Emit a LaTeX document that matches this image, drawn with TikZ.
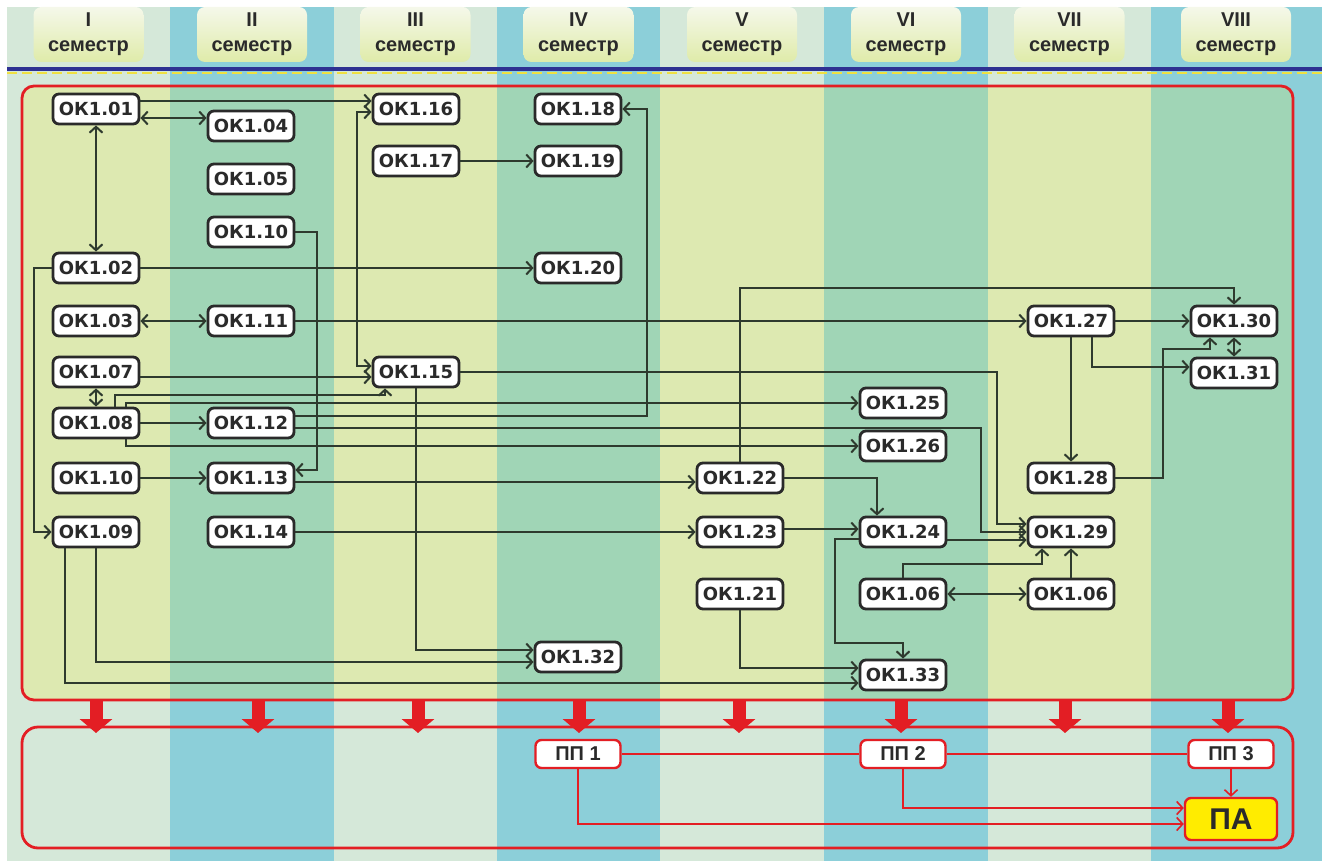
\documentclass[tikz,border=0pt]{standalone}
\usepackage{fontspec}
\setmainfont{Liberation Sans}
\newfontfamily\okfont{DejaVu Sans}
\usepackage{xcolor}
\usepackage{tikz}
\usetikzlibrary{positioning,arrows.meta,calc}
\definecolor{ColPale}{HTML}{D5E8D9}
\definecolor{ColBlue}{HTML}{8CCFD9}
\definecolor{InnerPale}{HTML}{DDE9B1}
\definecolor{InnerMint}{HTML}{A0D5B6}
\definecolor{FrameRed}{HTML}{E31E24}
\definecolor{LineDark}{HTML}{2E3A2E}
\definecolor{TextDark}{HTML}{2A2A2A}
\definecolor{HeadTop}{HTML}{F5F8EA}
\definecolor{HeadBottom}{HTML}{DFEBA9}
\definecolor{RuleBlue}{HTML}{2E3192}
\definecolor{RuleYellow}{HTML}{F0E040}
\definecolor{ExamYellow}{HTML}{FFEC00}

\tikzset{
  okbox/.style={draw=TextDark, fill=white, rounded corners=3pt, line width=1.4pt,
    minimum width=43pt, minimum height=15pt, inner sep=1pt, text=TextDark,
    font=\okfont\bfseries\fontsize{9}{10}\selectfont},
  ppbox/.style={draw=FrameRed, fill=white, rounded corners=3pt, line width=1.2pt,
    minimum width=42.5pt, minimum height=14pt, inner sep=1pt, text=TextDark,
    font=\bfseries\fontsize{10}{11}\selectfont},
  pabox/.style={ppbox, fill=ExamYellow, minimum width=46pt, minimum height=21pt,
    font=\bfseries\fontsize{15}{17}\selectfont},
  link/.style={draw=LineDark, line width=1pt, -{Straight Barb[length=3pt,width=6.5pt]}},
  twoway/.style={link, {Straight Barb[length=3pt,width=6.5pt]}-{Straight Barb[length=3pt,width=6.5pt]}},
  redlink/.style={draw=FrameRed, line width=0.8pt, -{Straight Barb[length=3pt,width=6.5pt]}},
  redline/.style={draw=FrameRed, line width=0.8pt},
  semhead/.style={rounded corners=4pt, top color=HeadTop, bottom color=HeadBottom},
  semtext/.style={align=center, text=TextDark, font=\bfseries\fontsize{10}{12.5}\selectfont},
}

\begin{document}
\begin{tikzpicture}[x=0.5pt,y=-0.5pt]
  \useasboundingbox (0,0) rectangle (1322,861);

  % semester columns
  \foreach \xa/\xb/\outer in {7/170/ColPale,170/334/ColBlue,334/497/ColPale,497/660/ColBlue,
      660/824/ColPale,824/988/ColBlue,988/1151/ColPale,1151/1322/ColBlue}
    \fill[\outer] (\xa,7) rectangle (\xb,861);
  \foreach \r/\xc in {I/88.5,II/252,III/415.5,IV/578.5,V/742,VI/906,VII/1069.5,VIII/1236}{
    \shade[semhead] (\xc-55,7) rectangle (\xc+55,62);
    \node[semtext] (sem\r) at (\xc,34) {\r\\семестр};
  }
  \draw[RuleBlue, line width=1.6pt] (7,69) -- (1322,69);
  \draw[RuleYellow, line width=1.2pt, dash pattern=on 5pt off 2.5pt] (7,73) -- (1322,73);

  \begin{scope}
    \clip[rounded corners=6pt] (22,86) rectangle (1293,700);
    \foreach \xa/\xb/\inner in {7/170/InnerPale,170/334/InnerMint,334/497/InnerPale,497/660/InnerMint,
        660/824/InnerPale,824/988/InnerMint,988/1151/InnerPale,1151/1322/InnerMint}
      \fill[\inner] (\xa,86) rectangle (\xb,700);
  \end{scope}
  \draw[FrameRed, line width=1.4pt, rounded corners=6pt] (22,86) rectangle (1293,700);
  \draw[FrameRed, line width=1.4pt, rounded corners=8pt] (22,727) rectangle (1293,848);
  \foreach \xc in {96,258,418,579,739,901,1065,1228}
    \draw[FrameRed, line width=6.5pt, -{Triangle[length=7pt,width=16pt]}] (\xc,700) -- (\xc,733);

  % components
  \node[okbox] (ok101) at (96,109) {ОК1.01};
  \node[okbox] (ok102) at (96,268) {ОК1.02};
  \node[okbox] (ok103) at (96,321) {ОК1.03};
  \node[okbox] (ok107) at (96,372) {ОК1.07};
  \node[okbox] (ok108) at (96,423) {ОК1.08};
  \node[okbox] (ok110b) at (96,478) {ОК1.10};
  \node[okbox] (ok109) at (96,532) {ОК1.09};
  \node[okbox] (ok104) at (251,126) {ОК1.04};
  \node[okbox] (ok105) at (251,179) {ОК1.05};
  \node[okbox] (ok110) at (251,232) {ОК1.10};
  \node[okbox] (ok111) at (251,321) {ОК1.11};
  \node[okbox] (ok112) at (251,423) {ОК1.12};
  \node[okbox] (ok113) at (251,478) {ОК1.13};
  \node[okbox] (ok114) at (251,532) {ОК1.14};
  \node[okbox] (ok116) at (416,109) {ОК1.16};
  \node[okbox] (ok117) at (416,161) {ОК1.17};
  \node[okbox] (ok115) at (416,372) {ОК1.15};
  \node[okbox] (ok118) at (578,109) {ОК1.18};
  \node[okbox] (ok119) at (578,161) {ОК1.19};
  \node[okbox] (ok120) at (578,268) {ОК1.20};
  \node[okbox] (ok132) at (578,657) {ОК1.32};
  \node[okbox] (ok122) at (740,478) {ОК1.22};
  \node[okbox] (ok123) at (740,532) {ОК1.23};
  \node[okbox] (ok121) at (740,594) {ОК1.21};
  \node[okbox] (ok125) at (903,403) {ОК1.25};
  \node[okbox] (ok126) at (903,446) {ОК1.26};
  \node[okbox] (ok124) at (903,532) {ОК1.24};
  \node[okbox] (ok106a) at (903,594) {ОК1.06};
  \node[okbox] (ok133) at (903,675) {ОК1.33};
  \node[okbox] (ok127) at (1071,321) {ОК1.27};
  \node[okbox] (ok128) at (1071,478) {ОК1.28};
  \node[okbox] (ok129) at (1071,532) {ОК1.29};
  \node[okbox] (ok106b) at (1071,594) {ОК1.06};
  \node[okbox] (ok130) at (1234,321) {ОК1.30};
  \node[okbox] (ok131) at (1234,373) {ОК1.31};

  \node[ppbox] (pp1) at (578,754) {ПП 1};
  \node[ppbox] (pp2) at (903,754) {ПП 2};
  \node[ppbox] (pp3) at (1231,754) {ПП 3};
  \node[pabox] (pa) at (1231,819) {ПА};

  % links
  \draw[link] ([yshift=4pt]ok101.east) -- ([yshift=4pt]ok101.east -| ok116.west);
  \draw[twoway] ([yshift=-4.5pt]ok101.east) -- ([yshift=-4.5pt]ok101.east -| ok104.west);
  \draw[twoway] (ok101.south) -- (ok102.north);
  \draw[link] (ok110.east) -- ++(22,0) |- ([yshift=4pt]ok113.east);
  \draw[twoway] ([yshift=-1.5pt]ok116.west) -- ++(-15,0) |- ([yshift=3pt]ok115.west);
  \draw[link] (ok117.east) -- (ok119.west);
  \draw[link] (ok102.east) -- (ok120.west);
  \draw[link] (ok102.west) -- ++(-18,0) |- (ok109.west);
  \draw[twoway] (ok103.east) -- (ok111.west);
  \draw[link] (ok111.east) -- (ok127.west);
  \draw[link] ([yshift=-2.5pt]ok107.east) -- ([yshift=-2.5pt]ok107.east -| ok115.west);
  \draw[twoway] (ok107.south) -- (ok108.north);
  \draw[link] ([xshift=9.5pt]ok108.north) -- ++(0,-12) -| ([xshift=-15.5pt]ok115.south);
  \draw[link] ([xshift=15pt]ok108.north) |- (ok125.west);
  \draw[link] (ok108.east) -- (ok112.west);
  \draw[link] ([xshift=15pt]ok108.south) |- (ok126.west);
  \draw[link] ([yshift=3.5pt]ok112.east) -| ([xshift=12.5pt]ok118.east) -- (ok118.east);
  \draw[link] ([yshift=-2.5pt]ok112.east) -| ([xshift=-23pt]ok129.west) -- (ok129.west);
  \draw[link] (ok110b.east) -- (ok113.west);
  \draw[link] ([yshift=-2pt]ok113.east) -- ([yshift=-2pt]ok113.east -| ok122.west);
  \draw[link] (ok115.east) -| ([xshift=-15pt,yshift=4pt]ok129.west) -- ([yshift=4pt]ok129.west);
  \draw[link] (ok115.south) |- ([yshift=3.5pt]ok132.west);
  \draw[link] (ok109.south) |- ([yshift=-2.5pt]ok132.west);
  \draw[link] ([xshift=-15.5pt]ok109.south) |- ([yshift=-4pt]ok133.west);
  \draw[link] (ok114.east) -- (ok123.west);
  \draw[link] (ok122.north) -- ++(0,-174) -| (ok130.north);
  \draw[link] (ok122.east) -| ([xshift=-13pt]ok124.north);
  \draw[link] ([yshift=1.5pt]ok123.east) -- ([yshift=1.5pt]ok123.east -| ok124.west);
  \draw[link] ([yshift=-4pt]ok124.east) -- ([yshift=-4pt]ok124.east -| ok129.west);
  \draw[link] ([yshift=-3.5pt]ok124.west) -- ++(-24,0) -- ++(0,104) -| (ok133.north);
  \draw[link] (ok121.south) |- ([yshift=3.5pt]ok133.west);
  \draw[link] (ok106a.north) -- ++(0,-14) -| ([xshift=-14.5pt]ok129.south);
  \draw[twoway] (ok106a.east) -- (ok106b.west);
  \draw[link] (ok106b.north) -- (ok129.south);
  \draw[link] (ok127.east) -- (ok130.west);
  \draw[link] (ok127.south) -- (ok128.north);
  \draw[link] ([xshift=10.5pt]ok127.south) |- ([yshift=3pt]ok131.west);
  \draw[link] (ok128.east) -- ++(48,0) -- ++(0,-129) -| ([xshift=-12pt]ok130.south);
  \draw[twoway] (ok130.south) -- (ok131.north);

  \draw[redline] (pp1.east) -- (pp2.west);
  \draw[redline] (pp2.east) -- (pp3.west);
  \draw[redlink] (pp1.south) |- ([yshift=-2.5pt]pa.west);
  \draw[redlink] (pp2.south) |- ([yshift=5.5pt]pa.west);
  \draw[redlink] (pp3.south) -- (pa.north);
\end{tikzpicture}
\end{document}
